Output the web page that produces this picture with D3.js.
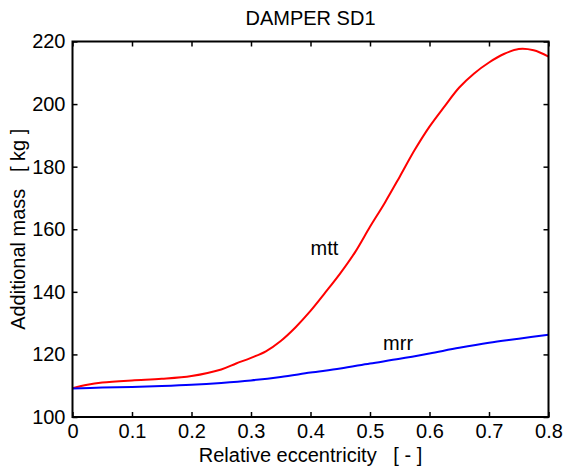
<!DOCTYPE html>
<html>
<head>
<meta charset="utf-8">
<script src="https://cdn.jsdelivr.net/npm/d3@7"></script>
<style>
  body { margin: 0; background: #fff; }
  svg { display: block; font-family: Arial, "Liberation Sans", sans-serif; }
</style>
</head>
<body>
<div class="chart"></div>
<script>
var width = 564,
    height = 474;

// relative eccentricity / additional mass readings
var mttEcc = [0, 0.025, 0.05, 0.1, 0.15, 0.2, 0.25, 0.275, 0.3, 0.325, 0.35, 0.375, 0.4, 0.425, 0.45, 0.475, 0.5, 0.525, 0.55, 0.575, 0.6, 0.625, 0.65, 0.675, 0.7, 0.725, 0.75, 0.775, 0.8];
var mttMass = [109.2, 110.3, 111.0, 111.7, 112.2, 113.1, 115.2, 117.1, 118.9, 121.0, 124.3, 128.7, 133.9, 139.8, 145.9, 152.7, 160.8, 168.5, 176.8, 185.3, 192.8, 199.2, 205.3, 209.8, 213.3, 216.0, 217.6, 217.2, 215.2];

var mrrEcc = [0, 0.05, 0.1, 0.15, 0.2, 0.25, 0.3, 0.35, 0.4, 0.45, 0.5, 0.55, 0.6, 0.65, 0.7, 0.75, 0.8];
var mrrMass = [109.1, 109.4, 109.6, 109.9, 110.3, 110.9, 111.7, 112.8, 114.2, 115.5, 117.1, 118.6, 120.3, 122.1, 123.7, 125.0, 126.3];

var xTicks = [0, 0.1, 0.2, 0.3, 0.4, 0.5, 0.6, 0.7, 0.8];
var yTicks = [100, 120, 140, 160, 180, 200, 220];

var margin = { top: 41.5, right: 15.5, bottom: 57, left: 72.5 };
var innerW = width - margin.left - margin.right,
    innerH = height - margin.top - margin.bottom;

var svg = d3.select(".chart").append("svg")
    .attr("width", width)
    .attr("height", height);

var g = svg.append("g")
    .attr("transform", "translate(" + margin.left + "," + margin.top + ")");

var x = d3.scaleLinear().domain([0, 0.8]).range([0, innerW]);
var y = d3.scaleLinear().domain([100, 220]).range([innerH, 0]);

var line = d3.line()
    .x(function(d) { return x(d[0]); })
    .y(function(d) { return y(d[1]); })
    .curve(d3.curveCatmullRom.alpha(0.5));

var fontSize = "20px";

// axes with inward ticks, mirrored on top/right
function styleAxis(sel) {
    sel.select(".domain").remove();
    sel.selectAll(".tick line").attr("stroke", "#000").attr("stroke-width", 1.5);
    sel.selectAll(".tick text").attr("fill", "#000").style("font-size", fontSize);
}

g.append("g")
    .attr("transform", "translate(0," + innerH + ")")
    .call(d3.axisBottom(x).tickValues(xTicks).tickFormat(d3.format("")).tickSizeInner(-5).tickSizeOuter(0).tickPadding(7))
    .call(styleAxis);

g.append("g")
    .call(d3.axisTop(x).tickValues(xTicks).tickFormat("").tickSizeInner(-5).tickSizeOuter(0))
    .call(styleAxis);

g.append("g")
    .call(d3.axisLeft(y).tickValues(yTicks).tickSizeInner(-5).tickSizeOuter(0).tickPadding(7))
    .call(styleAxis);

g.append("g")
    .attr("transform", "translate(" + innerW + ",0)")
    .call(d3.axisRight(y).tickValues(yTicks).tickFormat("").tickSizeInner(-5).tickSizeOuter(0))
    .call(styleAxis);

// lines
g.append("path")
    .datum(d3.zip(mttEcc, mttMass))
    .attr("fill", "none")
    .attr("stroke", "#ff0000")
    .attr("stroke-width", 2)
    .attr("d", line);

g.append("path")
    .datum(d3.zip(mrrEcc, mrrMass))
    .attr("fill", "none")
    .attr("stroke", "#0000ff")
    .attr("stroke-width", 2)
    .attr("d", line);

// frame
g.append("rect")
    .attr("width", innerW)
    .attr("height", innerH)
    .attr("fill", "none")
    .attr("stroke", "#000")
    .attr("stroke-width", 2);

// curve labels
g.append("text")
    .attr("x", x(0.4))
    .attr("y", y(151.7))
    .style("font-size", fontSize)
    .text("mtt");

g.append("text")
    .attr("x", x(0.522))
    .attr("y", y(121.4))
    .style("font-size", fontSize)
    .text("mrr");

// titles
svg.append("text")
    .attr("x", margin.left + innerW / 2)
    .attr("y", 25)
    .attr("text-anchor", "middle")
    .style("font-size", fontSize)
    .text("DAMPER SD1");

svg.append("text")
    .attr("x", margin.left + innerW / 2)
    .attr("y", 462)
    .attr("text-anchor", "middle")
    .style("font-size", fontSize)
    .style("white-space", "pre")
    .text("Relative eccentricity   [ - ]");

svg.append("text")
    .attr("transform", "translate(25," + (margin.top + innerH / 2) + ") rotate(-90)")
    .attr("text-anchor", "middle")
    .style("font-size", fontSize)
    .style("white-space", "pre")
    .text("Additional mass   [ kg ]");
</script>
</body>
</html>
